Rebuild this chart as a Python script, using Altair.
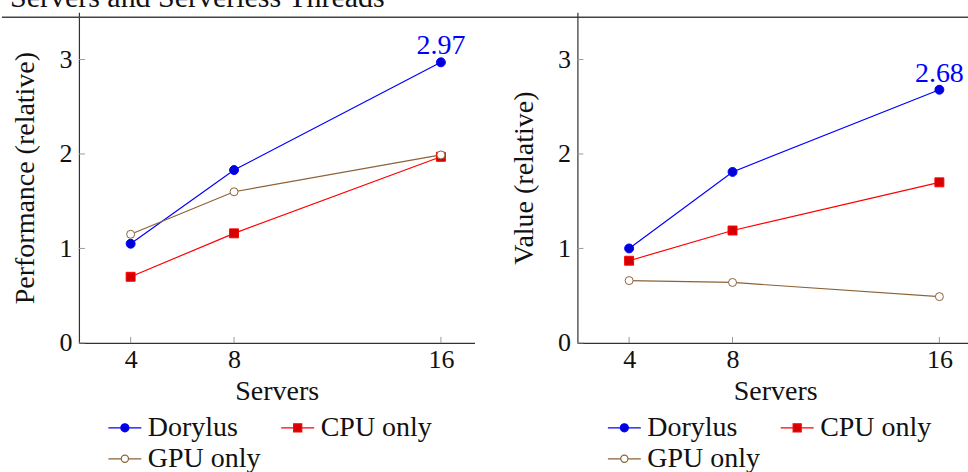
import altair as alt
import pandas as pd

# ---- data -----------------------------------------------------------------
servers = [4, 8, 16]
series_names = ["Dorylus", "CPU only", "GPU only"]

perf_dorylus = [1.05, 1.83, 2.97]
perf_cpu = [0.70, 1.16, 1.97]
perf_gpu = [1.15, 1.60, 1.99]

value_dorylus = [1.00, 1.81, 2.68]
value_cpu = [0.87, 1.19, 1.70]
value_gpu = [0.66, 0.64, 0.49]

x_tick_values = [4, 8, 16]
y_tick_values = [0, 1, 2, 3]

heading_text = "Servers and Serverless Threads"
x_title = "Servers"
left_y_title = "Performance (relative)"
right_y_title = "Value (relative)"

# ---- styling --------------------------------------------------------------
FONT = "Liberation Serif"
LINE_COLORS = ["#0000ff", "#ff0000", "#8c6239"]
MARK_FILLS = ["#0000d8", "#d40000", "#ffffff"]
MARK_SHAPES = ["circle", "square", "circle"]
MARK_SIZES = [80, 80, 64]
TICK_GRAY = "#9a9a9a"
W, H = 396, 331

# legend glyphs: a short line with the series marker in the middle
LEGEND_PATHS = [
    "M-1.1,0H-0.27M0.27,0H1.1M0.27,0A0.27,0.27 0 1 1 -0.27,0A0.27,0.27 0 1 1 0.27,0Z",
    "M-1.1,0H-0.27M0.27,0H1.1M-0.27,-0.27H0.27V0.27H-0.27Z",
    "M-1.1,0H-0.24M0.24,0H1.1M0.24,0A0.24,0.24 0 1 1 -0.24,0A0.24,0.24 0 1 1 0.24,0Z",
]

# the legend grid fills column by column: Dorylus / GPU only, then CPU only
LEGEND_ORDER = [0, 2, 1]
legend_domain = [series_names[i] for i in LEGEND_ORDER]
legend_paths = [LEGEND_PATHS[i] for i in LEGEND_ORDER]
legend_strokes = [LINE_COLORS[i] for i in LEGEND_ORDER]
legend_fills = [MARK_FILLS[i] for i in LEGEND_ORDER]

x_scale = alt.Scale(domain=[2, 17.3], nice=False, zero=False)
y_scale = alt.Scale(domain=[0, 3.5], nice=False)


def build_panel(series_values, y_title, legend_x, heading=False):
    df = pd.DataFrame({
        "servers": servers * len(series_names),
        "value": [v for vals in series_values for v in vals],
        "series": [s for s in series_names for _ in servers],
    })

    x_axis = alt.Axis(values=x_tick_values, ticks=False, grid=False,
                      labelPadding=4, titlePadding=5, title=x_title)
    y_axis = alt.Axis(values=y_tick_values, ticks=False, grid=False,
                      labelPadding=7, titlePadding=19, title=y_title)
    X = alt.X("servers:Q", scale=x_scale, axis=x_axis)
    Y = alt.Y("value:Q", scale=y_scale, axis=y_axis)

    base = alt.Chart(df)
    layers = []

    # one line layer and one marker layer per series
    for name, stroke in zip(series_names, LINE_COLORS):
        layers.append(
            base.transform_filter(alt.datum.series == name)
            .mark_line(color=stroke, strokeWidth=1.2).encode(x=X, y=Y)
        )
    for name, shape, fill, stroke, size in zip(series_names, MARK_SHAPES, MARK_FILLS,
                                               LINE_COLORS, MARK_SIZES):
        layers.append(
            base.transform_filter(alt.datum.series == name)
            .mark_point(shape=shape, filled=True, fill=fill, stroke=stroke,
                        strokeWidth=1, size=size, opacity=1)
            .encode(x=X, y=Y)
        )

    # inward tick marks on both axes
    x_ticks = alt.Chart(pd.DataFrame({"servers": x_tick_values})).mark_rule(
        color=TICK_GRAY, strokeWidth=1
    ).encode(x=X, y=alt.value(H), y2=alt.value(H - 6))
    y_ticks = alt.Chart(pd.DataFrame({"value": y_tick_values})).mark_rule(
        color=TICK_GRAY, strokeWidth=1
    ).encode(y=Y, x=alt.value(0), x2=alt.value(6))
    layers += [x_ticks, y_ticks]

    # value annotation on the last Dorylus point
    layers.append(
        base.transform_filter((alt.datum.series == "Dorylus") & (alt.datum.servers == 16))
        .mark_text(font=FONT, fontSize=28, color="#0000ff", align="center",
                   baseline="alphabetic", dy=-8)
        .encode(x=X, y=Y, text=alt.Text("value:Q", format=".2f"))
    )

    # legend-only layer: no rows survive the filter, the scales carry the domain
    legend = alt.Legend(
        orient="none", legendX=legend_x, legendY=400, columns=2, title=None,
        labelFont=FONT, labelFontSize=28, labelColor="#111111", labelOffset=7,
        columnPadding=18, rowPadding=1, symbolSize=900, symbolStrokeWidth=1.2,
        padding=0,
        labelExpr="datum.value == 'Dorylus' ? '\u00a0\u00a0' + datum.label : datum.label",
    )
    legend_layer = base.transform_filter("false").mark_point(
        filled=True, size=900, opacity=1
    ).encode(
        shape=alt.Shape("series:N", scale=alt.Scale(domain=legend_domain, range=legend_paths),
                        legend=legend),
        stroke=alt.Stroke("series:N", scale=alt.Scale(domain=legend_domain, range=legend_strokes),
                          legend=legend),
        fill=alt.Fill("series:N", scale=alt.Scale(domain=legend_domain, range=legend_fills),
                      legend=legend),
    )
    layers.append(legend_layer)

    if heading:
        layers.append(
            alt.Chart(pd.DataFrame({"t": [heading_text]}))
            .mark_text(font=FONT, fontSize=30, color="#111111", align="right",
                       baseline="alphabetic")
            .encode(x=alt.value(306), y=alt.value(-5), text="t:N")
        )
        layers.append(
            alt.Chart(pd.DataFrame({"t": [heading_text]}))
            .mark_rule(color="#444444", strokeWidth=1.5)
            .encode(x=alt.value(-77), x2=alt.value(891), y=alt.value(5))
        )

    return alt.layer(*layers).properties(width=W, height=H)


left = build_panel([perf_dorylus, perf_cpu, perf_gpu], left_y_title, 30, heading=True)
right = build_panel([value_dorylus, value_cpu, value_gpu], right_y_title, 31)

chart = (
    alt.hconcat(left, right, spacing=103, bounds="flush")
    .resolve_scale(x="independent", y="independent",
                   shape="independent", stroke="independent", fill="independent")
    .resolve_legend(shape="independent", stroke="independent", fill="independent")
    .properties(padding={"left": 0, "top": -18, "right": -6, "bottom": 62})
    .configure_view(stroke="transparent")
    .configure_axis(
        labelFont=FONT, labelFontSize=26, labelColor="#111111",
        titleFont=FONT, titleFontSize=28, titleFontWeight="normal", titleColor="#111111",
        domainColor="#333333", domainWidth=1.2,
    )
)

chart.save("out.html", embed_options={"renderer": "svg", "actions": False})
